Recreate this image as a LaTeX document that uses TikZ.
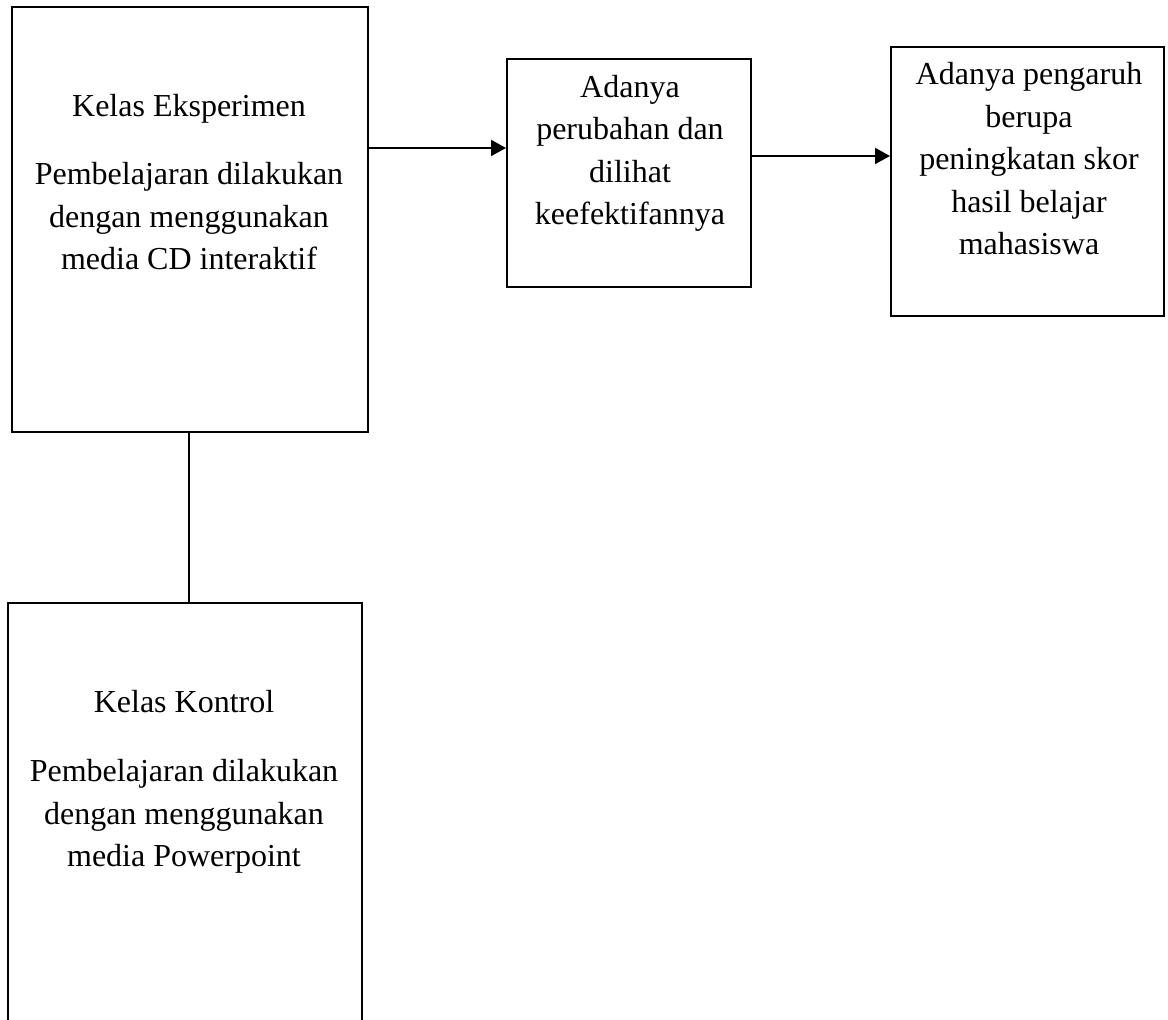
\documentclass[tikz,border=0pt]{standalone}
\usepackage{fontspec}
\setmainfont{Liberation Serif}
\usetikzlibrary{arrows.meta}

\tikzset{
    kotak/.style={draw, line width=1pt, inner sep=0pt},
    teks/.style={align=center, anchor=base, inner sep=0pt, font=\fontsize{16}{21.25}\selectfont},
    panah/.style={line width=1pt, -{Triangle[length=7.5pt, width=8pt]}}
}

\begin{document}
\begin{tikzpicture}[x=0.5pt, y=-0.5pt]
    \useasboundingbox (0,0) rectangle (1168,1020);
    \clip (0,0) rectangle (1168,1020);

    % kotak
    \node[kotak, minimum width=178pt, minimum height=212.5pt] (eksperimen) at (190,219.5) {};
    \node[kotak, minimum width=177pt, minimum height=228.5pt] (kontrol) at (185,831.5) {};
    \node[kotak, minimum width=122pt, minimum height=114pt] (perubahan) at (629,173) {};
    \node[kotak, minimum width=136.5pt, minimum height=134.5pt] (pengaruh) at (1027.5,181.5) {};

    % isi teks (anchor base = baris terakhir)
    \node[teks] (judulEks) at (189,117) {Kelas Eksperimen};
    \node[teks] (isiEks) at (189,270) {Pembelajaran dilakukan\\dengan menggunakan\\media CD interaktif};
    \node[teks] (judulKon) at (184,713) {Kelas Kontrol};
    \node[teks] (isiKon) at (184,867) {Pembelajaran dilakukan\\dengan menggunakan\\media Powerpoint};
    \node[teks] (isiPerubahan) at (630,225) {Adanya\\perubahan dan\\dilihat\\keefektifannya};
    \node[teks] (isiPengaruh) at (1029,255) {Adanya pengaruh\\berupa\\peningkatan skor\\hasil belajar\\mahasiswa};

    % penghubung
    \draw[line width=1pt] (eksperimen.south -| 189,0) -- (kontrol.north -| 189,0);
    \draw[panah] (eksperimen.east |- 0,148) -- (perubahan.west |- 0,148);
    \draw[panah] (perubahan.east |- 0,156) -- (pengaruh.west |- 0,156);
\end{tikzpicture}
\end{document}
